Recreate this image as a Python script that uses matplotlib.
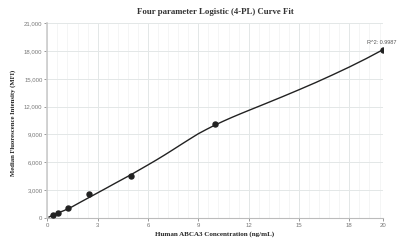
import matplotlib
matplotlib.use("Agg")
import matplotlib.pyplot as plt
import numpy as np

# Data points (concentration vs MFI)
conc = [0.3125, 0.625, 1.25, 2.5, 5, 10, 20]
mfi = [290, 570, 1110, 2550, 4500, 10150, 18150]

# Fitted 4-PL curve
curve_x = [0.1, 0.5, 1.0, 1.5, 2.0, 2.5, 3.0, 3.5, 4.0, 5.0, 6.0, 6.5, 7.0, 7.5, 8.0, 8.5, 9.0,
           9.5, 10.0, 10.5, 11.0, 11.5, 12.0, 13.0, 14.0, 15.0, 16.0, 17.0, 18.0, 19.0, 20.0]
curve_y = [100, 450, 800, 1230, 1730, 2220, 2710, 3200, 3700, 4680, 5720, 6250, 6800, 7370,
           7950, 8520, 9080, 9560, 10020, 10440, 10840, 11220, 11590, 12320, 13060, 13820,
           14600, 15420, 16270, 17170, 18130]

xticks = [0, 3, 6, 9, 12, 15, 18, 20]
yticks = [0, 3000, 6000, 9000, 12000, 15000, 18000, 21000]
r2_label = "R^2: 0.9987"

fig = plt.figure(figsize=(3.98, 2.46), dpi=100)
ax = fig.add_axes([0.119, 0.114, 0.843, 0.792])

ax.set_xlim(0, 20)
ax.set_ylim(0, 21000)

# grid
for xv in np.arange(0, 20.01, 0.6):
    ax.axvline(xv, color="#f2f4f4", lw=0.6, zorder=0)
for xv in xticks:
    ax.axvline(xv, color="#e3e7e7", lw=0.7, zorder=0)
for yv in yticks:
    ax.axhline(yv, color="#e3e7e7", lw=0.7, zorder=0)

ax.plot(curve_x, curve_y, color="#222222", lw=1.0, zorder=3)
ax.plot(conc, mfi, 'o', color="#222222", ms=3.6, zorder=4)

fig.text(0.997, 0.826, r2_label, fontsize=4.0, color="#555555", ha="right", va="center",
         family="Liberation Sans")

ax.set_xticks(xticks)
ax.set_yticks(yticks)
ax.set_xticklabels([str(v) for v in xticks])
ax.set_yticklabels([f"{v:,}" for v in yticks])
ax.tick_params(axis="both", labelsize=4.3, colors="#888888", length=2, width=0.6, pad=1.5)
for lab in ax.get_xticklabels() + ax.get_yticklabels():
    lab.set_family("Liberation Sans")
    lab.set_color("#777777")

for s in ["top", "right"]:
    ax.spines[s].set_visible(False)
ax.spines["left"].set_color("#cccccc")
ax.spines["left"].set_linewidth(1.2)
ax.spines["bottom"].set_color("#bbbbbb")
ax.spines["bottom"].set_linewidth(0.8)

fig.text(0.54, 0.95, "Four parameter Logistic (4-PL) Curve Fit", ha="center", va="center",
         fontsize=6.3, fontweight="bold", family="Liberation Serif", color="#333333")
fig.text(0.54, 0.05, "Human ABCA3 Concentration (ng/mL)", ha="center", va="center",
         fontsize=5.0, fontweight="bold", family="Liberation Serif", color="#222222")
fig.text(0.033, 0.50, "Median Fluorescence Intensity (MFI)", ha="center", va="center",
         rotation=90, fontsize=4.8, fontweight="bold", family="Liberation Serif", color="#222222")

fig.savefig("out.png", dpi=100)
